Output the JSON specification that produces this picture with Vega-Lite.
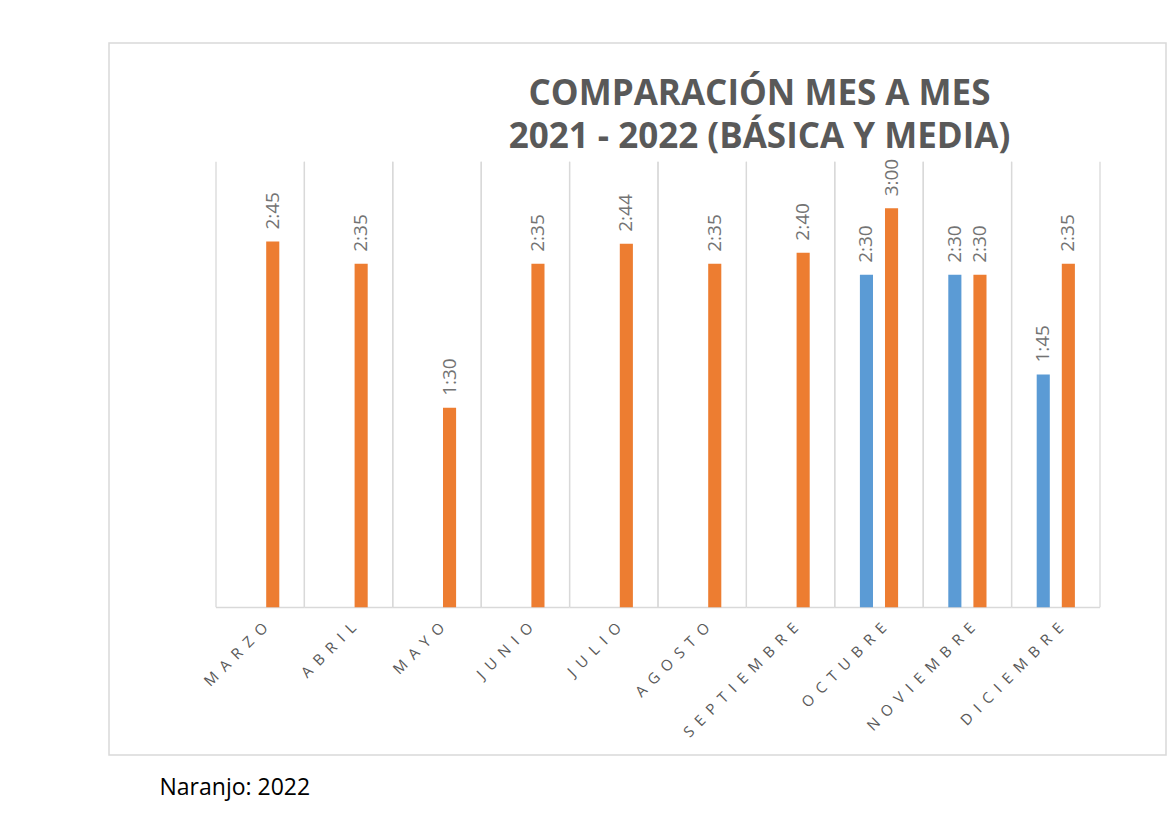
{
  "$schema": "https://vega.github.io/schema/vega-lite/v6.json",
  "width": 1057,
  "height": 712,
  "autosize": {"type": "none"},
  "padding": {"left": 109, "top": 43, "right": 10, "bottom": 84},
  "background": "white",
  "config": {"view": {"stroke": "#d9d9d9", "strokeWidth": 1.5}},
  "title": {
    "text": ["COMPARACIÓN MES A MES", "2021 - 2022 (BÁSICA Y MEDIA)"],
    "font": "Open Sans",
    "fontSize": 35,
    "fontWeight": "bold",
    "color": "#595959",
    "anchor": "middle",
    "dx": 122,
    "offset": -140,
    "baseline": "alphabetic",
    "lineHeight": 43
  },
  "datasets": {
    "meses": [
      {"mes": "MARZO"}, {"mes": "ABRIL"}, {"mes": "MAYO"}, {"mes": "JUNIO"}, {"mes": "JULIO"},
      {"mes": "AGOSTO"}, {"mes": "SEPTIEMBRE"}, {"mes": "OCTUBRE"}, {"mes": "NOVIEMBRE"}, {"mes": "DICIEMBRE"}
    ],
    "tiempos": [
      {"mes": "MARZO", "serie": "2022", "minutos": 165, "etiqueta": "2:45"},
      {"mes": "ABRIL", "serie": "2022", "minutos": 155, "etiqueta": "2:35"},
      {"mes": "MAYO", "serie": "2022", "minutos": 90, "etiqueta": "1:30"},
      {"mes": "JUNIO", "serie": "2022", "minutos": 155, "etiqueta": "2:35"},
      {"mes": "JULIO", "serie": "2022", "minutos": 164, "etiqueta": "2:44"},
      {"mes": "AGOSTO", "serie": "2022", "minutos": 155, "etiqueta": "2:35"},
      {"mes": "SEPTIEMBRE", "serie": "2022", "minutos": 160, "etiqueta": "2:40"},
      {"mes": "OCTUBRE", "serie": "2021", "minutos": 150, "etiqueta": "2:30"},
      {"mes": "OCTUBRE", "serie": "2022", "minutos": 180, "etiqueta": "3:00"},
      {"mes": "NOVIEMBRE", "serie": "2021", "minutos": 150, "etiqueta": "2:30"},
      {"mes": "NOVIEMBRE", "serie": "2022", "minutos": 150, "etiqueta": "2:30"},
      {"mes": "DICIEMBRE", "serie": "2021", "minutos": 105, "etiqueta": "1:45"},
      {"mes": "DICIEMBRE", "serie": "2022", "minutos": 155, "etiqueta": "2:35"}
    ]
  },
  "layer": [
    {
      "data": {"name": "meses"},
      "mark": {"type": "rule", "color": "#d9d9d9", "strokeWidth": 1.3},
      "encoding": {
        "x": {
          "field": "mes",
          "type": "nominal",
          "bandPosition": 0,
          "scale": {
            "domain": ["MARZO", "ABRIL", "MAYO", "JUNIO", "JULIO", "AGOSTO", "SEPTIEMBRE", "OCTUBRE", "NOVIEMBRE", "DICIEMBRE"],
            "paddingInner": 0,
            "paddingOuter": 0.9785,
            "align": 0.6185
          },
          "axis": {
            "title": "Naranjo: 2022",
            "labelAngle": -45,
            "labelExpr": "join(split(datum.label, ''), '\u2002')",
            "labelFont": "Open Sans",
            "labelFontSize": 15,
            "labelColor": "#595959",
            "labelPadding": 13,
            "domain": false,
            "ticks": false,
            "grid": false,
            "offset": -148,
            "titleX": 50,
            "titleY": 187,
            "titleAlign": "left",
            "titleAnchor": "start",
            "titleBaseline": "alphabetic",
            "titleFont": "Open Sans",
            "titleFontSize": 23,
            "titleFontWeight": "normal",
            "titleColor": "#000000"
          }
        },
        "y": {
          "datum": 0,
          "type": "quantitative",
          "scale": {"domain": [-66.6, 254.6], "nice": false, "zero": false},
          "axis": null
        },
        "y2": {"datum": 201}
      }
    },
    {
      "data": {"name": "meses"},
      "mark": {"type": "rule", "color": "#d9d9d9", "strokeWidth": 1.3},
      "encoding": {
        "x": {"field": "mes", "type": "nominal", "bandPosition": 1},
        "y": {"datum": 0, "type": "quantitative"},
        "y2": {"datum": 201}
      }
    },
    {
      "data": {"name": "meses"},
      "mark": {"type": "rect", "color": "#d9d9d9"},
      "encoding": {
        "x": {"field": "mes", "type": "nominal"},
        "y": {"datum": 0.3, "type": "quantitative"},
        "y2": {"datum": -0.4}
      }
    },
    {
      "data": {"name": "tiempos"},
      "mark": {"type": "bar"},
      "encoding": {
        "x": {"field": "mes", "type": "nominal"},
        "xOffset": {
          "field": "serie",
          "type": "nominal",
          "scale": {"domain": ["2021", "2022"], "paddingInner": 0.478, "paddingOuter": 1.16}
        },
        "y": {"field": "minutos", "type": "quantitative"},
        "color": {
          "field": "serie",
          "type": "nominal",
          "scale": {"domain": ["2021", "2022"], "range": ["#5B9BD5", "#ED7D31"]},
          "legend": null
        }
      }
    },
    {
      "data": {"name": "tiempos"},
      "mark": {
        "type": "text",
        "angle": 270,
        "align": "left",
        "baseline": "middle",
        "dx": 12,
        "font": "Open Sans",
        "fontSize": 19,
        "color": "#737373"
      },
      "encoding": {
        "x": {"field": "mes", "type": "nominal"},
        "xOffset": {"field": "serie", "type": "nominal"},
        "y": {"field": "minutos", "type": "quantitative"},
        "text": {"field": "etiqueta", "type": "nominal"}
      }
    }
  ]
}
